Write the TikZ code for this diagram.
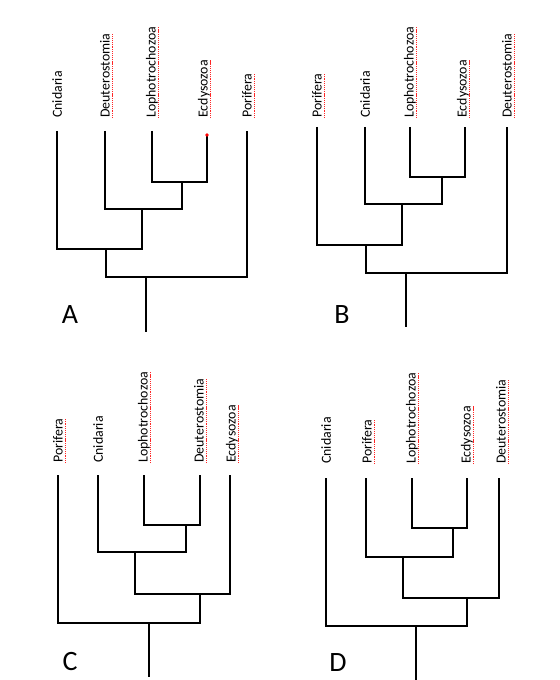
\documentclass[tikz,border=0pt]{standalone}
\usepackage{fontspec}
\setmainfont{Carlito}
\begin{document}
\begin{tikzpicture}[
  x=0.75pt, y=-0.75pt,
  branch/.style={line width=1.8pt},
  taxon/.style={rotate=90, anchor=west, inner sep=0pt,
                font=\fontsize{10.4}{12}\selectfont},
  flag/.style={red!85, line width=0.6pt, dash pattern=on 0.9pt off 0.7pt},
  letter/.style={font=\fontsize{21}{24}\selectfont},
]
  \useasboundingbox (0,0) rectangle (559,680);

  % tree A
  \node[taxon] (aCni) at (57,118)  {Cnidaria};
  \node[taxon] (aDeu) at (105,118) {Deuterostomia};
  \node[taxon] (aLop) at (152,118) {Lophotrochozoa};
  \node[taxon] (aEcd) at (204,118) {Ecdysozoa};
  \node[taxon] (aPor) at (247,118) {Porifera};
  \coordinate (aCniT) at (57,131);
  \coordinate (aDeuT) at (105,131);
  \coordinate (aLopT) at (152,131);
  \coordinate (aEcdT) at (207,135);
  \coordinate (aPorT) at (247,131);
  \coordinate (aN1) at (182,182);
  \coordinate (aN2) at (142,209);
  \coordinate (aN3) at (106,249);
  \coordinate (aN4) at (146,277);
  \coordinate (aRoot) at (146,332);
  \draw[branch] (aLopT) |- (aN1) -| (aEcdT);
  \draw[branch] (aDeuT) |- (aN2) -| (aN1);
  \draw[branch] (aCniT) |- (aN3) -| (aN2);
  \draw[branch] (aN3) |- (aN4) -| (aPorT);
  \draw[branch] (aN4) -- (aRoot);
  \fill[red] (aEcdT) circle (1.8);
  \node[letter] (labA) at (70,315) {A};

  % tree B
  \node[taxon] (bPor) at (317,118) {Porifera};
  \node[taxon] (bCni) at (365,118) {Cnidaria};
  \node[taxon] (bLop) at (410,118) {Lophotrochozoa};
  \node[taxon] (bEcd) at (463,118) {Ecdysozoa};
  \node[taxon] (bDeu) at (507,118) {Deuterostomia};
  \coordinate (bPorT) at (317,127);
  \coordinate (bCniT) at (365,127);
  \coordinate (bLopT) at (410,127);
  \coordinate (bEcdT) at (465,127);
  \coordinate (bDeuT) at (507,127);
  \coordinate (bN1) at (442,177);
  \coordinate (bN2) at (402,204);
  \coordinate (bN3) at (366,245);
  \coordinate (bN4) at (406,273);
  \coordinate (bRoot) at (406,327);
  \draw[branch] (bLopT) |- (bN1) -| (bEcdT);
  \draw[branch] (bCniT) |- (bN2) -| (bN1);
  \draw[branch] (bPorT) |- (bN3) -| (bN2);
  \draw[branch] (bN3) |- (bN4) -| (bDeuT);
  \draw[branch] (bN4) -- (bRoot);
  \node[letter] (labB) at (342,315) {B};

  % tree C
  \node[taxon] (cPor) at (58,463)  {Porifera};
  \node[taxon] (cCni) at (98,463)  {Cnidaria};
  \node[taxon] (cLop) at (144,463) {Lophotrochozoa};
  \node[taxon] (cDeu) at (199,463) {Deuterostomia};
  \node[taxon] (cEcd) at (232,463) {Ecdysozoa};
  \coordinate (cPorT) at (58,475);
  \coordinate (cCniT) at (98,475);
  \coordinate (cLopT) at (144,475);
  \coordinate (cDeuT) at (200,475);
  \coordinate (cEcdT) at (230,475);
  \coordinate (cN1) at (186,525);
  \coordinate (cN2) at (135,552);
  \coordinate (cN3) at (200,594);
  \coordinate (cN4) at (149,623);
  \coordinate (cRoot) at (149,677);
  \draw[branch] (cLopT) |- (cN1) -| (cDeuT);
  \draw[branch] (cCniT) |- (cN2) -| (cN1);
  \draw[branch] (cN2) |- (cN3) -| (cEcdT);
  \draw[branch] (cPorT) |- (cN4) -| (cN3);
  \draw[branch] (cN4) -- (cRoot);
  \node[letter] (labC) at (70,662) {C};

  % tree D
  \node[taxon] (dCni) at (326,464) {Cnidaria};
  \node[taxon] (dPor) at (367,464) {Porifera};
  \node[taxon] (dLop) at (412,464) {Lophotrochozoa};
  \node[taxon] (dEcd) at (467,464) {Ecdysozoa};
  \node[taxon] (dDeu) at (501,464) {Deuterostomia};
  \coordinate (dCniT) at (326,478);
  \coordinate (dPorT) at (366,478);
  \coordinate (dLopT) at (412,478);
  \coordinate (dEcdT) at (467,478);
  \coordinate (dDeuT) at (499,478);
  \coordinate (dN1) at (453,528);
  \coordinate (dN2) at (403,557);
  \coordinate (dN3) at (467,598);
  \coordinate (dN4) at (416,626);
  \coordinate (dRoot) at (416,680);
  \draw[branch] (dLopT) |- (dN1) -| (dEcdT);
  \draw[branch] (dPorT) |- (dN2) -| (dN1);
  \draw[branch] (dN2) |- (dN3) -| (dDeuT);
  \draw[branch] (dCniT) |- (dN4) -| (dN3);
  \draw[branch] (dN4) -- (dRoot);
  \node[letter] (labD) at (338,663) {D};

  % spell-check marks
  \foreach \n in {aDeu,aLop,aEcd,aPor,bPor,bLop,bEcd,bDeu,
                  cPor,cLop,cDeu,cEcd,dPor,dLop,dEcd,dDeu}
    \draw[flag] ([xshift=1.8pt]\n.base west) -- ([xshift=1.8pt]\n.base east);
\end{tikzpicture}
\end{document}
